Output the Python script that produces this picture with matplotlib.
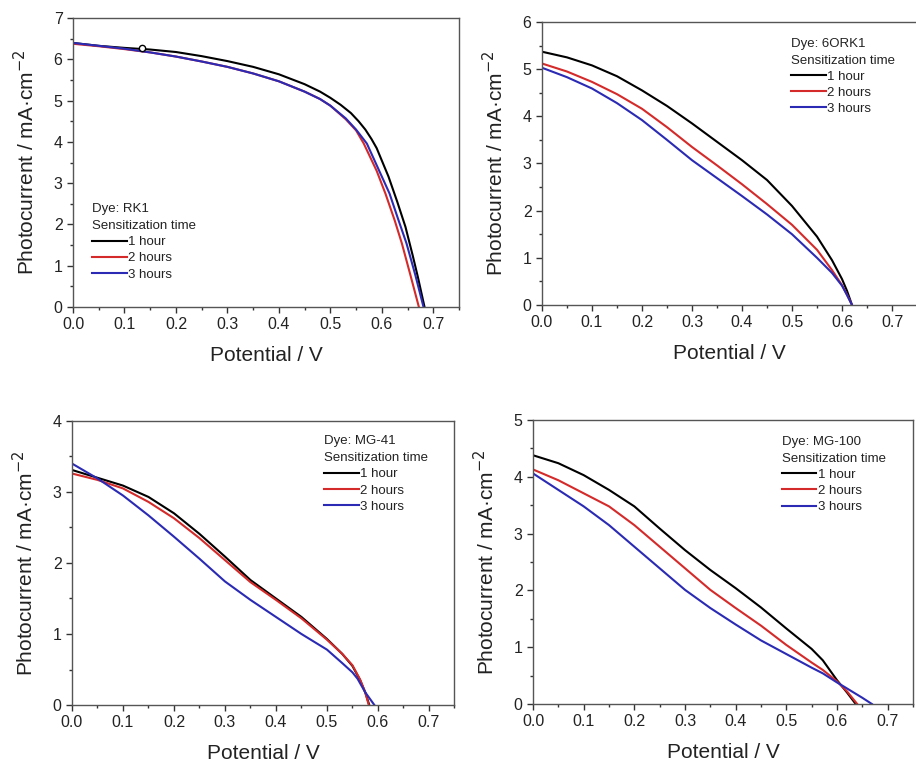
import numpy as np
import matplotlib
matplotlib.use("Agg")
import matplotlib.pyplot as plt
from matplotlib.ticker import MultipleLocator

plt.rcParams['font.family'] = ['Liberation Sans', 'DejaVu Sans']

labels = ["1 hour", "2 hours", "3 hours"]
colors = ["#000000", "#d42a2a", "#2a2ab4"]

# RK1
rk1_v1 = [0, 0.05, 0.1, 0.15, 0.2, 0.25, 0.3, 0.35, 0.4, 0.45, 0.48, 0.5, 0.52, 0.54, 0.555, 0.568, 0.58, 0.59, 0.613, 0.63, 0.646, 0.66, 0.67, 0.683]
rk1_j1 = [6.40, 6.33, 6.28, 6.24, 6.18, 6.08, 5.96, 5.82, 5.64, 5.40, 5.22, 5.07, 4.90, 4.70, 4.50, 4.30, 4.07, 3.85, 3.16, 2.55, 1.94, 1.25, 0.73, 0]
rk1_v2 = [0, 0.05, 0.1, 0.15, 0.2, 0.25, 0.3, 0.35, 0.4, 0.45, 0.48, 0.5, 0.53, 0.55, 0.565, 0.59, 0.607, 0.625, 0.639, 0.655, 0.672]
rk1_j2 = [6.38, 6.32, 6.25, 6.17, 6.07, 5.95, 5.82, 5.66, 5.47, 5.22, 5.04, 4.88, 4.55, 4.28, 3.96, 3.30, 2.75, 2.10, 1.54, 0.80, 0]
rk1_v3 = [0, 0.05, 0.1, 0.15, 0.2, 0.25, 0.3, 0.35, 0.4, 0.45, 0.48, 0.5, 0.53, 0.55, 0.571, 0.595, 0.615, 0.632, 0.648, 0.665, 0.681]
rk1_j3 = [6.40, 6.33, 6.26, 6.17, 6.07, 5.95, 5.82, 5.66, 5.47, 5.22, 5.04, 4.88, 4.57, 4.30, 3.96, 3.30, 2.75, 2.12, 1.54, 0.78, 0]

# 6ORK1
ork_v = [0, 0.05, 0.1, 0.15, 0.2, 0.25, 0.3, 0.35, 0.4, 0.45, 0.5, 0.55, 0.58, 0.6, 0.61, 0.62]
ork_j1 = [5.37, 5.25, 5.08, 4.85, 4.55, 4.22, 3.85, 3.46, 3.07, 2.65, 2.10, 1.45, 0.95, 0.55, 0.30, 0]
ork_j2 = [5.12, 4.95, 4.73, 4.47, 4.16, 3.77, 3.35, 2.96, 2.56, 2.14, 1.70, 1.17, 0.74, 0.42, 0.22, 0]
ork_j3 = [5.03, 4.83, 4.59, 4.28, 3.92, 3.50, 3.07, 2.69, 2.31, 1.92, 1.50, 1.00, 0.68, 0.41, 0.21, 0]

# MG-41
mg41_v1 = [0, 0.05, 0.1, 0.15, 0.2, 0.25, 0.3, 0.35, 0.4, 0.45, 0.5, 0.53, 0.55, 0.565, 0.575, 0.583]
mg41_j1 = [3.31, 3.20, 3.09, 2.93, 2.70, 2.41, 2.09, 1.76, 1.50, 1.24, 0.93, 0.72, 0.55, 0.35, 0.18, 0]
mg41_v2 = [0, 0.05, 0.1, 0.15, 0.2, 0.25, 0.3, 0.35, 0.4, 0.45, 0.5, 0.53, 0.55, 0.565, 0.575, 0.582]
mg41_j2 = [3.26, 3.17, 3.05, 2.86, 2.63, 2.35, 2.04, 1.73, 1.48, 1.22, 0.92, 0.72, 0.56, 0.36, 0.18, 0]
mg41_v3 = [0, 0.05, 0.1, 0.15, 0.2, 0.25, 0.3, 0.35, 0.4, 0.45, 0.5, 0.53, 0.55, 0.56, 0.575, 0.593]
mg41_j3 = [3.40, 3.19, 2.95, 2.67, 2.37, 2.06, 1.74, 1.48, 1.24, 1.00, 0.78, 0.59, 0.46, 0.37, 0.18, 0]

# MG-100
mg100_v1 = [0, 0.05, 0.1, 0.15, 0.2, 0.25, 0.3, 0.35, 0.4, 0.45, 0.5, 0.55, 0.572, 0.6, 0.62, 0.637]
mg100_j1 = [4.38, 4.24, 4.03, 3.77, 3.48, 3.09, 2.71, 2.36, 2.04, 1.70, 1.33, 0.97, 0.77, 0.42, 0.20, 0]
mg100_v2 = [0, 0.05, 0.1, 0.15, 0.2, 0.25, 0.3, 0.35, 0.4, 0.45, 0.5, 0.55, 0.572, 0.6, 0.62, 0.64]
mg100_j2 = [4.13, 3.94, 3.71, 3.48, 3.15, 2.77, 2.39, 2.01, 1.69, 1.38, 1.04, 0.73, 0.60, 0.40, 0.22, 0]
mg100_v3 = [0, 0.05, 0.1, 0.15, 0.2, 0.25, 0.3, 0.35, 0.4, 0.45, 0.5, 0.55, 0.572, 0.6, 0.615, 0.65, 0.669]
mg100_j3 = [4.06, 3.77, 3.48, 3.15, 2.77, 2.39, 2.01, 1.69, 1.40, 1.12, 0.88, 0.64, 0.54, 0.38, 0.30, 0.11, 0]

panels = [
    ("RK1", [(rk1_v1, rk1_j1), (rk1_v2, rk1_j2), (rk1_v3, rk1_j3)], 7,
     [0.0797, 0.5982, 0.4214, 0.378], (0.05, 0.36)),
    ("6ORK1", [(ork_v, ork_j1), (ork_v, ork_j2), (ork_v, ork_j3)], 6,
     [0.5917, 0.6008, 0.4094, 0.3704], (0.665, 0.945)),
    ("MG-41", [(mg41_v1, mg41_j1), (mg41_v2, mg41_j2), (mg41_v3, mg41_j3)], 4,
     [0.0786, 0.0772, 0.4175, 0.3718], (0.66, 0.95)),
    ("MG-100", [(mg100_v1, mg100_j1), (mg100_v2, mg100_j2), (mg100_v3, mg100_j3)], 5,
     [0.5819, 0.0785, 0.4148, 0.3717], (0.655, 0.945)),
]

fig = plt.figure(figsize=(9.16, 7.64), dpi=100)

for dye, series, ymax, pos, legpos in panels:
    ax = fig.add_axes(pos)
    for (v, j), lab, c in zip(series, labels, colors):
        ax.plot(v, j, color=c, lw=1.5, label=lab)
    if dye == "RK1":
        ax.plot([0.135], [6.27], marker="o", ms=4.5, mfc="white", mec="black", mew=1.0, ls="none")
    ax.set_xlim(0, 0.75)
    ax.set_ylim(0, ymax)
    ax.xaxis.set_major_locator(MultipleLocator(0.1))
    ax.xaxis.set_minor_locator(MultipleLocator(0.05))
    ax.yaxis.set_major_locator(MultipleLocator(1))
    ax.yaxis.set_minor_locator(MultipleLocator(0.5))
    ax.xaxis.set_major_formatter(plt.FormatStrFormatter("%.1f"))
    ax.tick_params(which="major", direction="out", length=4, width=1, labelsize=11.5,
                   colors="#333333", labelcolor="#222222")
    ax.tick_params(which="minor", direction="out", length=2.5, width=1, colors="#333333")
    for s in ax.spines.values():
        s.set_color("#555555")
        s.set_linewidth(1.0)
    ax.set_xlabel("Potential / V", fontsize=15, color="#222222", labelpad=10)
    ax.set_ylabel("Photocurrent / mA·cm$^{-2}$", fontsize=15, color="#222222", labelpad=11)
    leg = ax.legend(loc="upper left", bbox_to_anchor=legpos, frameon=False, fontsize=9.5,
                    title="Dye: " + dye + "\nSensitization time", title_fontsize=9.5,
                    alignment="left", handlelength=2.6, handletextpad=0.1,
                    labelspacing=0.3, borderaxespad=0, borderpad=0)
    leg.get_title().set_color("#222222")
    leg.get_title().set_linespacing(1.55)
    for t in leg.get_texts():
        t.set_color("#222222")

fig.savefig("out.png", dpi=100)
